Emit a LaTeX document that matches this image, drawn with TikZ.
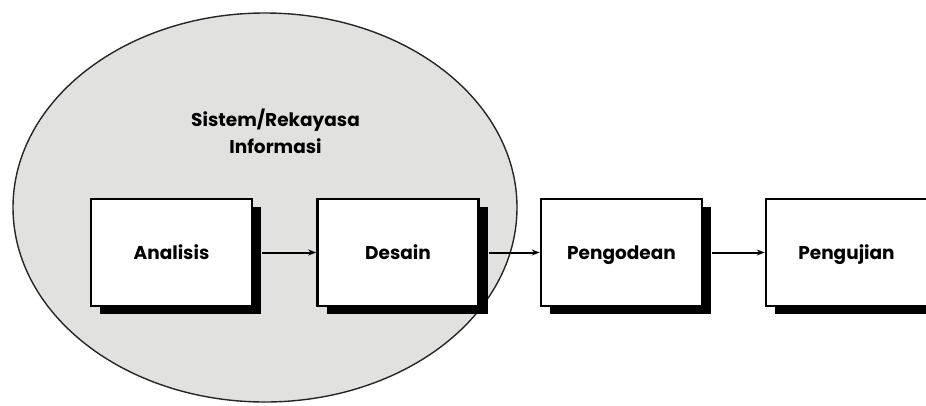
\documentclass[tikz,border=0pt]{standalone}
\usepackage{fontspec}
\setmainfont{Poppins}
\usetikzlibrary{arrows.meta,shapes.geometric,shadows}
\definecolor{ovalgrey}{HTML}{E1E1E0}

\begin{document}
\begin{tikzpicture}[x=1pt,y=-1pt,
  stagebox/.style={draw=black, line width=2.6pt, fill=white,
    minimum width=161pt, minimum height=107pt, inner sep=0pt,
    text height=13pt, text depth=0pt,
    font=\fontsize{18.5}{22}\selectfont\bfseries,
    drop shadow={shadow xshift=9pt, shadow yshift=-8pt, fill=black, opacity=1}},
  flow/.style={line width=2pt, -{Stealth[length=8pt,width=6pt]}},
  scope oval/.style={ellipse, draw=black!85, line width=1.4pt, fill=ovalgrey,
    minimum width=504pt, minimum height=389pt, inner sep=0pt}]
  \useasboundingbox (0,0) rectangle (926,405);
  \clip (0,0) rectangle (926,405);
  \fill[white] (0,0) rectangle (926,405);

  % scope of system / information engineering
  \node[scope oval] (sys) at (265,207.5) {};
  \node[font=\fontsize{18.5}{27}\selectfont\bfseries, align=center] (syslabel) at (275.5,131)
    {Sistem/Rekayasa\\Informasi};

  % process stages
  \node[stagebox] (ana) at (171.5,252.5) {Analisis};
  \node[stagebox] (des) at (398,252.5) {Desain};
  \node[stagebox] (kod) at (621.5,252.5) {Pengodean};
  \node[stagebox] (uji) at (846.5,252.5) {Pengujian};

  % flow between stages
  \draw[flow] ([xshift=9pt]ana.east) -- (des.west);
  \draw[flow] ([xshift=9pt]des.east) -- (kod.west);
  \draw[flow] ([xshift=9pt]kod.east) -- (uji.west);
\end{tikzpicture}
\end{document}
